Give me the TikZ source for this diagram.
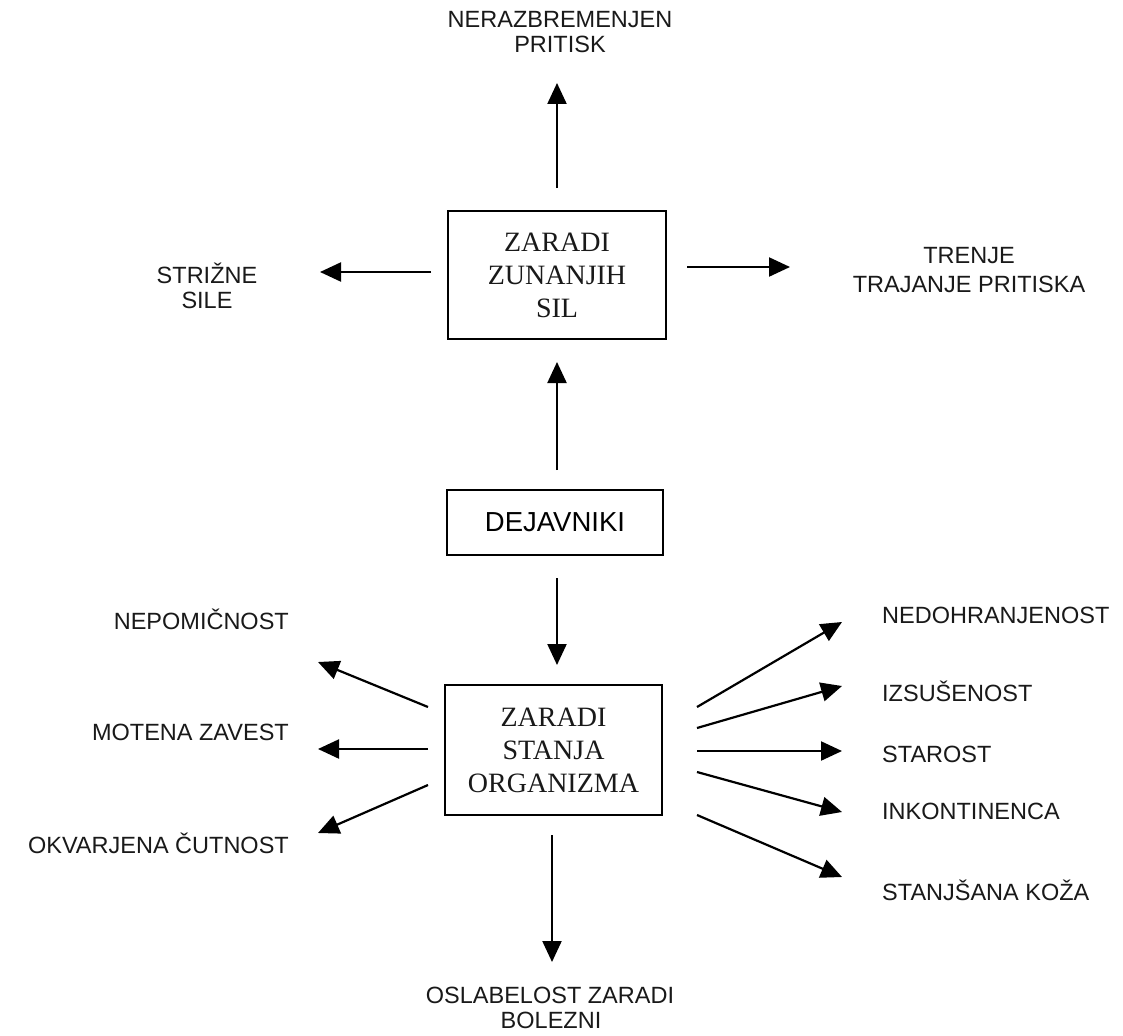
\documentclass[tikz,border=0pt]{standalone}
\usepackage{fontspec}
\setmainfont{Liberation Serif}
\setsansfont{Liberation Sans}
\usetikzlibrary{arrows.meta}
\tikzset{
  box/.style={draw, line width=2.2pt, rectangle, inner sep=0pt, align=center,
              font=\fontsize{28}{33}\selectfont\rmfamily, text=black!90},
  lbl/.style={inner sep=0pt, font=\fontsize{23.5}{27}\selectfont\sffamily, text=black!90},
  arr/.style={line width=2.2pt, -{Triangle[length=21pt,width=19pt]}}
}
\begin{document}
\begin{tikzpicture}[x=1pt,y=-1pt]
\useasboundingbox (0,0) rectangle (1123,1035);
\fill[white] (0,0) rectangle (1123,1035);

% boxes
\node[box, minimum width=218pt, minimum height=128pt] (ext) at (557,275) {ZARADI\\ZUNANJIH\\SIL};
\node[box, minimum width=216pt, minimum height=65pt, font=\fontsize{27.5}{30}\selectfont\sffamily, text=black] (dej) at (555,522.5) {DEJAVNIKI};
\node[box, minimum width=217pt, minimum height=130pt] (org) at (553.5,750) {ZARADI\\STANJA\\ORGANIZMA};

% labels (base anchored, one node per line)
\node[lbl, anchor=base] (ner1) at (560,28) {NERAZBREMENJEN};
\node[lbl, anchor=base] (ner2) at (560,53) {PRITISK};
\node[lbl, anchor=base] (str1) at (207,283) {STRIŽNE};
\node[lbl, anchor=base] (str2) at (207,308) {SILE};
\node[lbl, anchor=base] (tre1) at (969,263) {TRENJE};
\node[lbl, anchor=base] (tre2) at (969,292) {TRAJANJE PRITISKA};
\node[lbl, anchor=base] (osl1) at (550,1003) {OSLABELOST ZARADI};
\node[lbl, anchor=base] (osl2) at (551,1028) {BOLEZNI};

\node[lbl, anchor=base east] (nep) at (289,629) {NEPOMIČNOST};
\node[lbl, anchor=base east] (mot) at (289,740) {MOTENA ZAVEST};
\node[lbl, anchor=base east] (okv) at (289,853) {OKVARJENA ČUTNOST};

\node[lbl, anchor=base west] (ned) at (882,623) {NEDOHRANJENOST};
\node[lbl, anchor=base west] (izs) at (882,701) {IZSUŠENOST};
\node[lbl, anchor=base west] (sta) at (882,762) {STAROST};
\node[lbl, anchor=base west] (ink) at (882,819) {INKONTINENCA};
\node[lbl, anchor=base west] (stk) at (882,900) {STANJŠANA KOŽA};

% connector end points
\coordinate (a1s) at (557,188); \coordinate (a1e) at (557,83);
\coordinate (a2s) at (431,272); \coordinate (a2e) at (320,272);
\coordinate (a3s) at (687,267); \coordinate (a3e) at (790,267);
\coordinate (a4s) at (557,470); \coordinate (a4e) at (557,362);
\coordinate (a5s) at (557,578); \coordinate (a5e) at (557,665);
\coordinate (a6s) at (552,835); \coordinate (a6e) at (552,962);
\coordinate (l1s) at (428,707); \coordinate (l1e) at (318,662);
\coordinate (l2s) at (428,749); \coordinate (l2e) at (318,749);
\coordinate (l3s) at (428,785); \coordinate (l3e) at (318,833);
\coordinate (r1s) at (697,707); \coordinate (r1e) at (842,622);
\coordinate (r2s) at (697,728); \coordinate (r2e) at (842,686);
\coordinate (r3s) at (697,751); \coordinate (r3e) at (842,751);
\coordinate (r4s) at (697,772); \coordinate (r4e) at (842,812);
\coordinate (r5s) at (697,815); \coordinate (r5e) at (842,877);

\foreach \s/\e in {a1s/a1e,a2s/a2e,a3s/a3e,a4s/a4e,a5s/a5e,a6s/a6e,
                   l1s/l1e,l2s/l2e,l3s/l3e,
                   r1s/r1e,r2s/r2e,r3s/r3e,r4s/r4e,r5s/r5e}
  \draw[arr] (\s) -- (\e);
\end{tikzpicture}
\end{document}
